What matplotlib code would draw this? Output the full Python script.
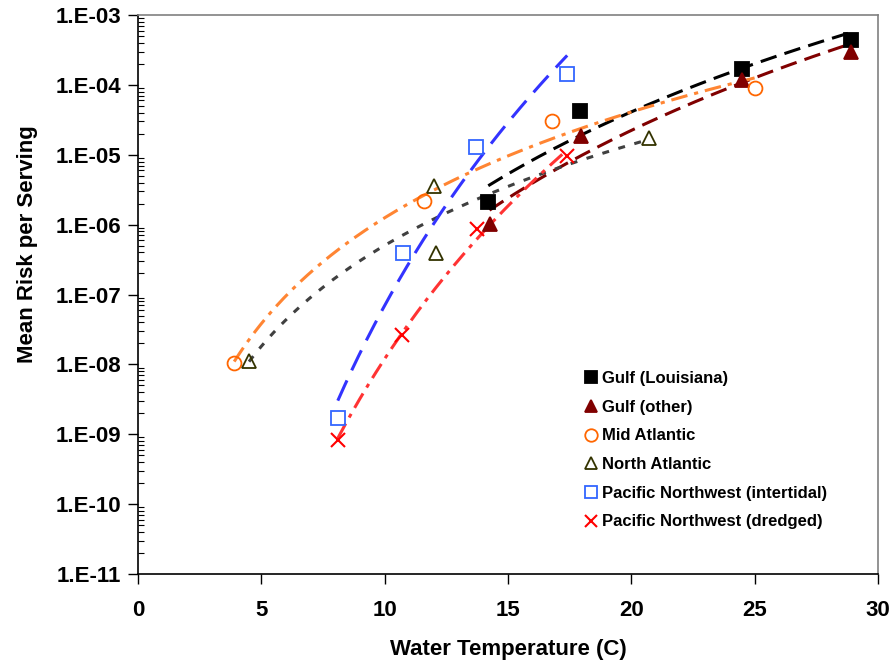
import numpy as np
import matplotlib
matplotlib.use('Agg')
import matplotlib.pyplot as plt
from matplotlib.ticker import FixedLocator, LogLocator, NullFormatter

plt.rcParams['font.family'] = ['Liberation Sans', 'DejaVu Sans']
plt.rcParams['font.weight'] = 'bold'
plt.rcParams['lines.scale_dashes'] = False

# Data
gulf_la_t = [14.2, 17.9, 24.5, 28.9]
gulf_la_r = [2.1e-6, 4.2e-5, 1.7e-4, 4.4e-4]

gulf_other_t = [14.25, 17.95, 24.5, 28.9]
gulf_other_r = [1.02e-6, 1.85e-5, 1.17e-4, 2.95e-4]

mid_atl_t = [3.9, 11.6, 16.8, 25.0]
mid_atl_r = [1.05e-8, 2.2e-6, 3.0e-5, 9.0e-5]

north_atl_t = [4.5, 12.0, 12.1, 20.7]
north_atl_r = [1.12e-8, 3.6e-6, 3.9e-7, 1.75e-5]

pnw_inter_t = [8.1, 10.75, 13.7, 17.4]
pnw_inter_r = [1.7e-9, 3.9e-7, 1.3e-5, 1.43e-4]

pnw_dredg_t = [8.1, 10.7, 13.75, 17.4]
pnw_dredg_r = [8.3e-10, 2.6e-8, 8.7e-7, 9.6e-6]

y_ticks = [1e-11, 1e-10, 1e-9, 1e-8, 1e-7, 1e-6, 1e-5, 1e-4, 1e-3]
y_labels = ['1.E-11', '1.E-10', '1.E-09', '1.E-08', '1.E-07',
            '1.E-06', '1.E-05', '1.E-04', '1.E-03']

series = [
    # label, t, r, marker, face, edge, line colour, dashes
    ('Gulf (Louisiana)', gulf_la_t, gulf_la_r, 's', 'black', 'black', 'black', (12, 6)),
    ('Gulf (other)', gulf_other_t, gulf_other_r, '^', '#800000', '#800000', '#800000', (12, 6)),
    ('Mid Atlantic', mid_atl_t, mid_atl_r, 'o', 'none', '#FF6600', '#FF8533', (12, 5, 3, 5)),
    ('North Atlantic', north_atl_t, north_atl_r, '^', 'none', '#333300', '#404040', (5, 7)),
    ('Pacific Northwest (intertidal)', pnw_inter_t, pnw_inter_r, 's', 'none', '#3366FF', '#3333FF', (16, 8)),
    ('Pacific Northwest (dredged)', pnw_dredg_t, pnw_dredg_r, 'x', 'none', '#FF0000', '#FF3333', (12, 5, 3, 5)),
]

fig = plt.figure(figsize=(8.95, 6.65), dpi=100)
ax = fig.add_axes([0.1542, 0.1368, 0.8268, 0.8406])

# power trendlines (like Excel), fitted in log space
for label, t, r, m, fc, ec, lc, ds in series:
    b, a = np.polyfit(np.log10(t), np.log10(r), 1)
    xx = np.linspace(min(t), max(t), 200)
    yy = 10 ** (a + b * np.log10(xx))
    ln, = ax.plot(xx, yy, color=lc, lw=2.2, zorder=2)
    ln.set_dashes(ds)

for label, t, r, m, fc, ec, lc, ds in series:
    ax.plot(t, r, linestyle='none', marker=m, markersize=10,
            markerfacecolor=fc, markeredgecolor=ec,
            markeredgewidth=1.3 if m != 'x' else 1.5, label=label, zorder=3)

ax.set_yscale('log')
ax.set_xlim(0, 30)
ax.set_ylim(1e-11, 1e-3)
ax.set_xticks([0, 5, 10, 15, 20, 25, 30])
ax.yaxis.set_major_locator(FixedLocator(y_ticks))
ax.set_yticklabels(y_labels)
ax.yaxis.set_minor_locator(LogLocator(base=10, subs=np.arange(2, 10), numticks=20))
ax.yaxis.set_minor_formatter(NullFormatter())

ax.tick_params(axis='both', which='major', direction='out', length=7, width=1,
               labelsize=16)
ax.tick_params(axis='x', which='major', pad=12)
ax.tick_params(axis='y', which='major', pad=5)
ax.tick_params(axis='y', which='minor', direction='in', length=4, width=0.8)
for lab in ax.get_xticklabels() + ax.get_yticklabels():
    lab.set_fontweight('bold')

ax.spines['left'].set_color('black')
ax.spines['bottom'].set_color('black')
ax.spines['top'].set_color('#808080')
ax.spines['right'].set_color('#808080')
for s in ax.spines.values():
    s.set_linewidth(1.2)

ax.set_xlabel('Water Temperature (C)', fontsize=16, fontweight='bold')
ax.set_ylabel('Mean Risk per Serving', fontsize=16, fontweight='bold')
ax.xaxis.set_label_coords(0.5, -0.117)
ax.yaxis.set_label_coords(-0.135, 0.59)

leg = ax.legend(loc='upper left', bbox_to_anchor=(0.583, 0.39), frameon=False,
                fontsize=12, handlelength=0.8, handletextpad=0.25,
                labelspacing=0.82, markerscale=0.9)
for txt in leg.get_texts():
    txt.set_fontweight('bold')

fig.savefig('out.png', dpi=100)
